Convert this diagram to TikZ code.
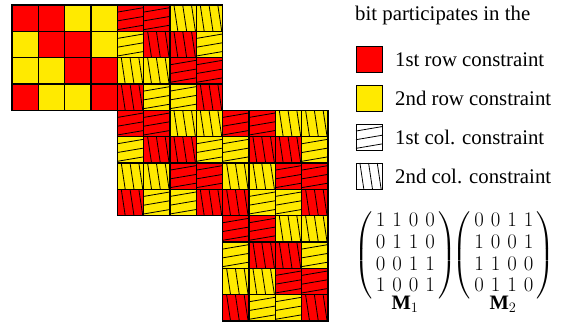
\documentclass[tikz,border=0pt]{standalone}
\usepackage{exscale}
\usepackage{fontspec}
\setmainfont{Liberation Serif}
\usetikzlibrary{positioning}

\definecolor{rowred}{RGB}{255,0,0}
\definecolor{rowyellow}{RGB}{255,234,0}
\renewcommand{\arraystretch}{0.9}

\tikzset{
	cellbox/.style={draw=black, line width=1.4pt},
	hatchline/.style={draw=black, line width=0.8pt},
	legendbox/.style={draw=black, line width=0.8pt},
	legendtext/.style={anchor=base west, inner sep=0pt, font=\fontsize{20.8}{24}\selectfont},
	mattext/.style={inner sep=0pt, font=\fontsize{20.5}{24}\selectfont},
}

% first column constraint: rising lines
\newcommand{\hatchfirst}[3]{%
	\foreach \k in {0,1,2}
		\draw[hatchline] (#1, {#2+(0.27+\k/3)*#3}) -- ({#1+#3}, {#2+(0.10+\k/3)*#3});
}
% second column constraint: falling lines
\newcommand{\hatchsecond}[3]{%
	\foreach \k in {0,1,2}
		\draw[hatchline] ({#1+(0.15+\k/3)*#3}, #2) -- ({#1+(0.30+\k/3)*#3}, {#2+#3});
}

\begin{document}
\begin{tikzpicture}[x=1pt, y=-1pt]
	
	\useasboundingbox (0, 0) rectangle (561, 330);
	\def\cs{26.33}
	
	% blocks of the bit array
	\foreach \br/\bc/\hatched in {0/0/0, 0/1/1, 1/1/1, 1/2/1, 2/2/1} {
		\foreach \i in {0,...,3} {
			\foreach \j in {0,...,3} {
				\pgfmathsetmacro{\cx}{12 + (4*\bc + \j)*\cs}
				\pgfmathsetmacro{\cy}{5 + (4*\br + \i)*\cs}
				\pgfmathtruncatemacro{\isred}{mod(\j - \i + 4, 4) < 2 ? 1 : 0}
				\pgfmathtruncatemacro{\isvert}{mod(\i + \j, 4) > 1 ? 1 : 0}
				\ifnum\isred=1
					\fill[rowred] (\cx, \cy) rectangle ({\cx+\cs}, {\cy+\cs});
				\else
					\fill[rowyellow] (\cx, \cy) rectangle ({\cx+\cs}, {\cy+\cs});
				\fi
				\ifnum\hatched=1
					\ifnum\isvert=1
						\hatchsecond{\cx}{\cy}{\cs}
					\else
						\hatchfirst{\cx}{\cy}{\cs}
					\fi
				\fi
				\draw[cellbox] (\cx, \cy) rectangle ({\cx+\cs}, {\cy+\cs});
			}
		}
	}
	
	% legend
	\node[legendtext] (head) at (355, 20) {bit participates in the};
	
	\draw[legendbox, fill=rowred] (356, 46) rectangle (382, 72);
	\node[legendtext] (rowone) at (395, 66) {1st row constraint};
	
	\draw[legendbox, fill=rowyellow] (356, 85) rectangle (382, 111);
	\node[legendtext] (rowtwo) at (395, 105) {2nd row constraint};
	
	\hatchfirst{356}{124}{26}
	\draw[legendbox] (356, 124) rectangle (382, 150);
	\node[legendtext] (colone) at (395, 144) {1st col. constraint};
	
	\hatchsecond{356}{163}{26}
	\draw[legendbox] (356, 163) rectangle (382, 189);
	\node[legendtext] (coltwo) at (395, 183) {2nd col. constraint};
	
	% matrices
	\node[mattext] (mone) at (405.5, 255) {$\left(\begin{array}{@{\,}c@{\hspace{7pt}}c@{\hspace{7pt}}c@{\hspace{7pt}}c@{\,}}
		1 & 1 & 0 & 0\\ 0 & 1 & 1 & 0\\ 0 & 0 & 1 & 1\\ 1 & 0 & 0 & 1
	\end{array}\right)$};
	\node[mattext] (mtwo) at (504, 255) {$\left(\begin{array}{@{\,}c@{\hspace{7pt}}c@{\hspace{7pt}}c@{\hspace{7pt}}c@{\,}}
		0 & 0 & 1 & 1\\ 1 & 0 & 0 & 1\\ 1 & 1 & 0 & 0\\ 0 & 1 & 1 & 0
	\end{array}\right)$};
	\node[mattext] (mlabone) at (405, 304) {\textbf{M}$_1$};
	\node[mattext] (mlabtwo) at (503, 304) {\textbf{M}$_2$};
	
\end{tikzpicture}
\end{document}
